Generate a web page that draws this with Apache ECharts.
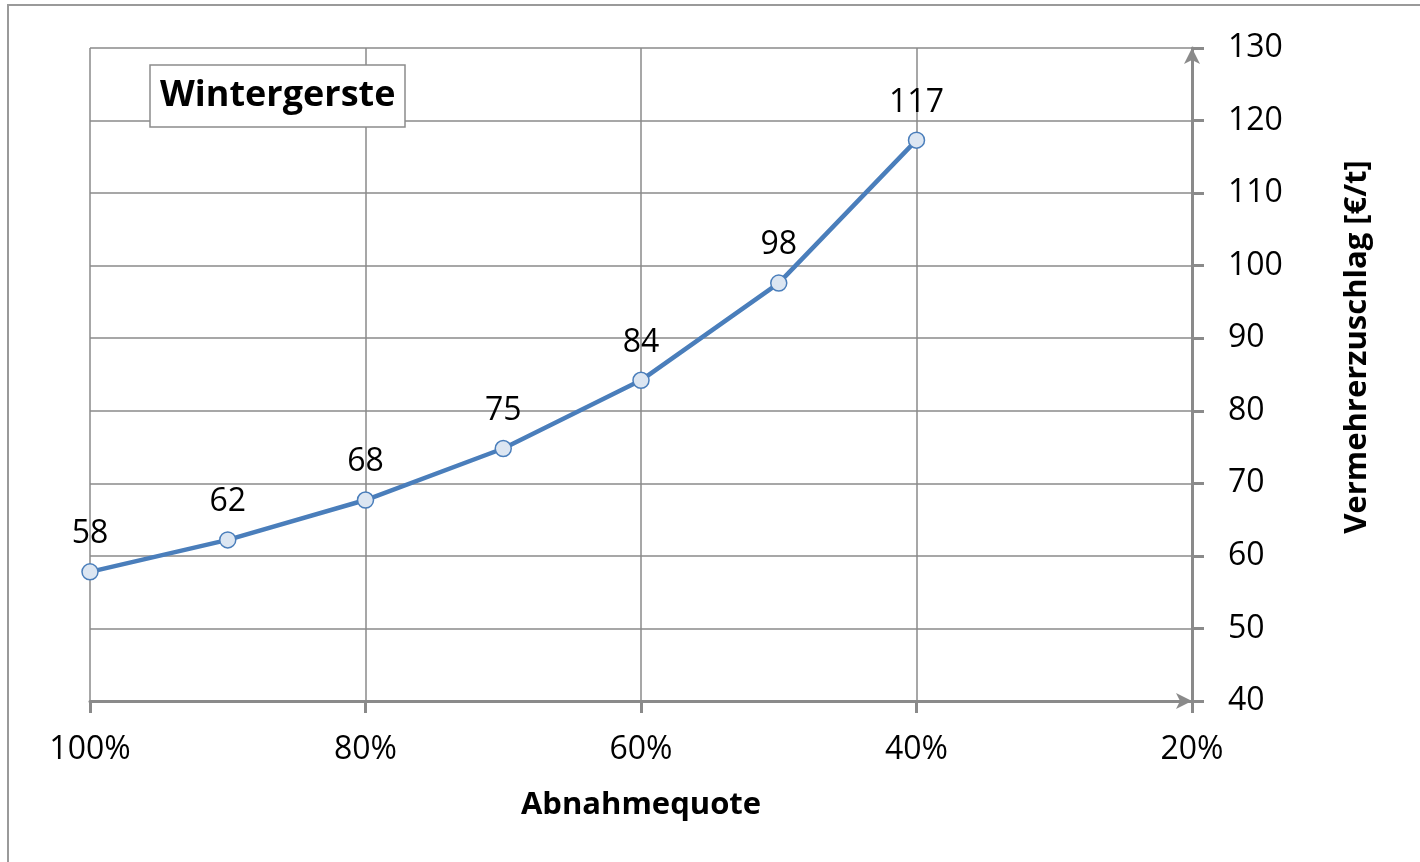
<!DOCTYPE html>
<html>
<head>
<meta charset="utf-8">
<script src="https://cdn.jsdelivr.net/npm/echarts@6/dist/echarts.min.js"></script>
<style>
html,body{margin:0;padding:0;background:#fff;}
#chart{width:1420px;height:862px;}
</style>
</head>
<body>
<div id="chart"></div>
<script>
const quote = [100, 90, 80, 70, 60, 50, 40];
const zuschlag = [57.8, 62.2, 67.7, 74.8, 84.2, 97.6, 117.3];
const xTicks = [100, 80, 60, 40, 20];
const yTicks = [40, 50, 60, 70, 80, 90, 100, 110, 120, 130];
const chartTitle = 'Wintergerste';
const xName = 'Abnahmequote';
const yName = 'Vermehrerzuschlag [€/t]';

const FONT = '"Open Sans", "Noto Sans", sans-serif';
const GRAY = '#8a8a8a';

const chart = echarts.init(document.getElementById('chart'));
chart.setOption({
  animation: false,
  backgroundColor: '#fff',
  textStyle: { fontFamily: FONT },
  graphic: [{
    type: 'rect',
    shape: { x: 8, y: 5, width: 1600, height: 1000 },
    style: { fill: 'none', stroke: '#9a9a9a', lineWidth: 2 },
    silent: true, z: -10
  }, {
    type: 'text',
    x: 1357, y: 347, rotation: Math.PI / 2,
    style: {
      text: yName, fontFamily: FONT, fontWeight: 'bold', fontSize: 31, fill: '#000',
      align: 'center', verticalAlign: 'middle'
    },
    silent: true
  }],
  title: {
    text: chartTitle,
    left: 150, top: 65,
    padding: [9, 10, 9, 10],
    borderColor: '#8c8c8c', borderWidth: 1.5,
    backgroundColor: '#fff',
    textStyle: { fontFamily: FONT, fontWeight: 'bold', fontSize: 36, color: '#000', lineHeight: 44 }
  },
  grid: { left: 90, right: 228, top: 48, bottom: 161, containLabel: false },
  xAxis: {
    type: 'value',
    min: xTicks[xTicks.length - 1], max: xTicks[0], interval: 20,
    inverse: true,
    name: xName, nameLocation: 'middle', nameGap: 89,
    nameTextStyle: { fontFamily: FONT, fontWeight: 'bold', fontSize: 31, color: '#000' },
    axisLine: { show: true, lineStyle: { color: GRAY, width: 3 }, symbol: ['none', 'arrow'], symbolSize: [12, 16] },
    axisTick: { show: true, inside: false, length: 12, lineStyle: { color: GRAY, width: 3 } },
    axisLabel: { formatter: '{value}%', fontFamily: FONT, fontSize: 32, color: '#000', margin: 33 },
    splitLine: { show: true, lineStyle: { color: GRAY, width: 1.5 } }
  },
  yAxis: {
    type: 'value', position: 'right',
    min: yTicks[0], max: yTicks[yTicks.length - 1], interval: 10,
    axisLine: { show: true, lineStyle: { color: GRAY, width: 3 }, symbol: ['none', 'arrow'], symbolSize: [12, 16] },
    axisTick: { show: true, inside: false, length: 12, lineStyle: { color: GRAY, width: 3 } },
    axisLabel: { fontFamily: FONT, fontSize: 32, color: '#000', margin: 36 },
    splitLine: { show: true, lineStyle: { color: GRAY, width: 1.5 } }
  },
  series: [{
    type: 'line',
    data: quote.map((q, i) => [q, zuschlag[i]]),
    lineStyle: { color: '#4a7ebb', width: 4.5 },
    itemStyle: { color: '#dce6f2', borderColor: '#4a7ebb', borderWidth: 1.5 },
    symbol: 'circle', symbolSize: 16,
    label: {
      show: true, position: 'top', distance: 13,
      formatter: p => Math.round(p.value[1]),
      fontFamily: FONT, fontSize: 32, color: '#000'
    },
    z: 5
  }]
});
</script>
</body>
</html>
